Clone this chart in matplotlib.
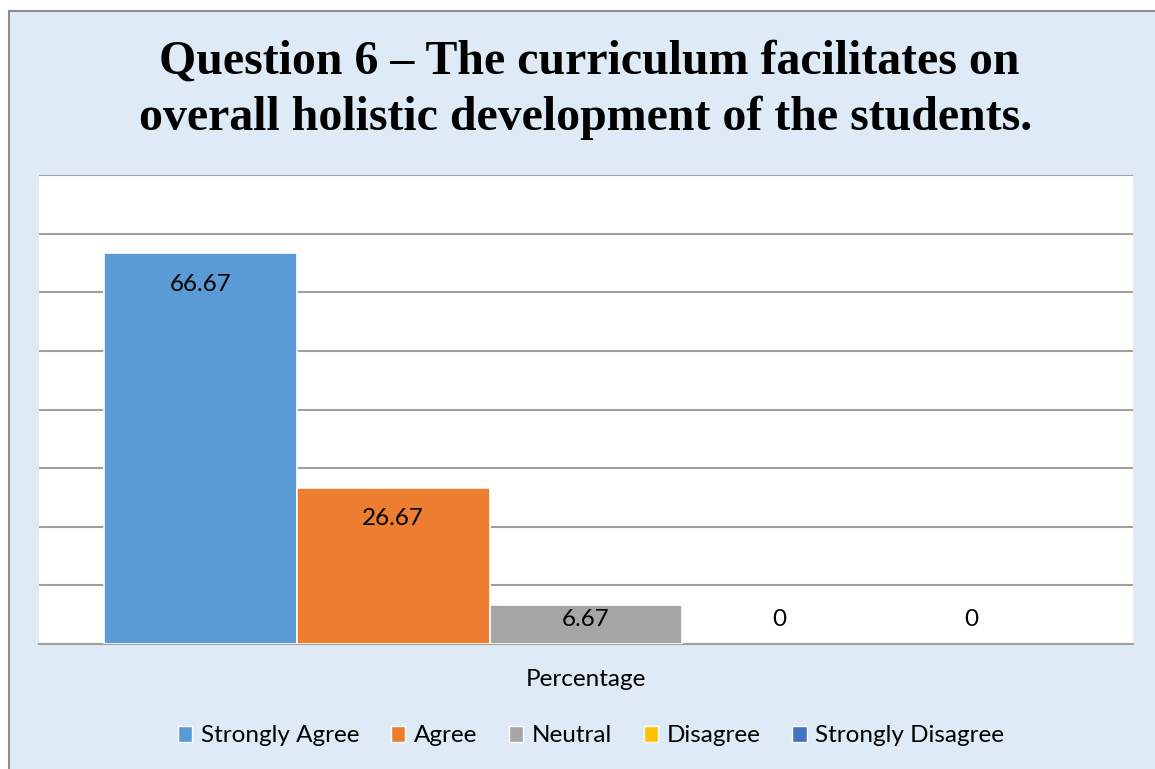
import matplotlib.pyplot as plt
from matplotlib.patches import Rectangle, Patch

categories = ["Strongly Agree", "Agree", "Neutral", "Disagree", "Strongly Disagree"]
values = [66.67, 26.67, 6.67, 0, 0]
value_labels = ["66.67", "26.67", "6.67", "0", "0"]
colors = ["#5B9BD5", "#ED7D31", "#A5A5A5", "#FFC000", "#4472C4"]
group_label = "Percentage"
title_lines = ["Question 6 \u2013 The curriculum facilitates on",
               "overall holistic development of the students."]

bg = "#DEEAF6"
fig = plt.figure(figsize=(11.55, 7.69), dpi=100)
fig.patch.set_facecolor("white")

# chart box with grey border on top/left
fig.patches.append(Rectangle((9 / 1155, -0.05), 1.1, 1.05 - 11 / 769, transform=fig.transFigure,
                             facecolor=bg, edgecolor="#8C8C8C", linewidth=1.5, zorder=-5))

ax = fig.add_axes([39 / 1155, 1 - 644 / 769, (1133 - 39) / 1155, (644 - 175) / 769])
ax.set_facecolor("white")

w = 965 / 1095 / len(values)
for i, (v, c, lab) in enumerate(zip(values, colors, value_labels)):
    x = (i - (len(values) - 1) / 2) * w
    ax.bar(x, v, width=w, color=c, edgecolor="white", linewidth=1.2 if v > 0 else 0, zorder=3)
    ax.text(x, max(v - 5.3, 4.1), lab, ha="center", va="center", fontsize=17.5,
            family="Lato", color="black", zorder=4)

ax.set_xlim(-0.5, 0.5)
ax.set_ylim(0, 80)
ax.set_yticks(range(0, 81, 10))
ax.set_yticklabels([])
ax.tick_params(length=0)
ax.set_xticks([])
ax.grid(axis="y", color="#A0A0A0", linewidth=1.5, zorder=0)
for s in ["left", "right", "top"]:
    ax.spines[s].set_visible(False)
ax.spines["bottom"].set_color("#A0A0A0")
ax.spines["bottom"].set_linewidth(1.5)

for xpix, ypix, line in zip([589, 586], [62, 118], title_lines):
    fig.text(xpix / 1155, 1 - ypix / 769, line, ha="center", va="center",
             fontsize=34.5, fontweight="bold", family="Liberation Serif")

fig.text(586 / 1155, 1 - 680 / 769, group_label, ha="center", va="center", fontsize=17.5, family="Lato")

handles = [Patch(facecolor=c, edgecolor="white", label=n) for n, c in zip(categories, colors)]
fig.legend(handles=handles, loc="center", bbox_to_anchor=(591 / 1155, 1 - 736 / 769), ncol=5,
           frameon=False, prop={"family": "Lato", "size": 17.5}, handlelength=0.6, handleheight=0.6,
           handletextpad=0.35, columnspacing=1.3)

fig.savefig("out.png", dpi=100, facecolor=fig.get_facecolor())
